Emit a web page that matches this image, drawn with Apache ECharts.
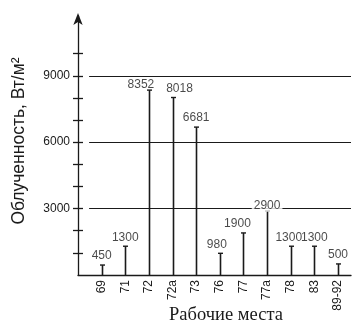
<!DOCTYPE html>
<html>
<head>
<meta charset="utf-8">
<script src="https://cdn.jsdelivr.net/npm/echarts@6/dist/echarts.min.js"></script>
<style>
  html, body { margin: 0; padding: 0; background: #fff; }
  #chart { width: 354px; height: 323px; }
</style>
</head>
<body>
<div id="chart"></div>
<script>
// Workplaces and measured irradiance, W/m²
const workplaces = ['69', '71', '72', '72а', '73', '76', '77', '77а', '78', '83', '89-92'];
const irradiance = [450, 1300, 8352, 8018, 6681, 980, 1900, 2900, 1300, 1300, 500];
const yTicks = [1000, 2000, 3000, 4000, 5000, 6000, 7000, 8000, 9000, 10000];
const yLabels = [3000, 6000, 9000];
const gridLevels = [3000, 6000, 9000];

const INK = '#1a1a1a';
const FONT = '"Liberation Sans", Arial, sans-serif';

// Nudges keep value labels clear of neighbours and the 9000 line
const labelShift = { 2: [-8, 4], 3: [7, 0], 5: [-3, 0], 6: [-6, 0], 8: [-2, 0], 7: [0, 4] };

const points = irradiance.map((v, i) => [i, v]);

const labelData = irradiance.map((v, i) => {
  const item = { value: [i, v] };
  const lbl = {};
  if (labelShift[i]) lbl.offset = labelShift[i];
  if (i === 7) {
    lbl.backgroundColor = '#fff';
    lbl.padding = [0, 2];
  }
  item.label = lbl;
  return item;
});

const chart = echarts.init(document.getElementById('chart'), null, { renderer: 'canvas' });

const yMin = 0, yMax = 11700;
const xMin = -1, xMax = 10.55;
const plain = v => String(v);

chart.setOption({
  animation: false,
  backgroundColor: '#fff',
  grid: { left: 78, right: 3, top: 16, bottom: 48 },
  xAxis: {
    type: 'value',
    min: xMin,
    max: xMax,
    interval: 1,
    axisLine: { show: true, onZero: false, lineStyle: { color: INK, width: 1.3 } },
    axisTick: { show: false },
    splitLine: { show: false },
    axisLabel: {
      rotate: 90,
      margin: 5,
      fontFamily: FONT,
      fontSize: 12,
      color: INK,
      showMaxLabel: false,
      formatter: v => (Number.isInteger(v) && v >= 0 && v < workplaces.length) ? workplaces[v] : ''
    }
  },
  yAxis: [
    {
      type: 'value',
      min: yMin,
      max: yMax,
      axisLine: {
        show: true,
        onZero: false,
        lineStyle: { color: INK, width: 1.3 },
        symbol: ['none', 'arrow'],
        symbolSize: [7, 12],
        symbolOffset: [0, 3]
      },
      axisTick: { show: true, inside: false, length: 5, customValues: yTicks, lineStyle: { color: INK, width: 1.3 } },
      axisLabel: { customValues: yLabels, margin: 8, fontFamily: FONT, fontSize: 12, color: INK, formatter: plain },
      splitLine: { show: false }
    },
    {
      type: 'value',
      position: 'left',
      offset: 0,
      min: yMin,
      max: yMax,
      axisLine: { show: false, onZero: false },
      axisTick: { show: true, inside: true, length: 5, customValues: yTicks, lineStyle: { color: INK, width: 1.3 } },
      axisLabel: { show: false },
      splitLine: { show: false }
    }
  ],
  graphic: [
    {
      type: 'text',
      x: 19, y: 141,
      rotation: Math.PI / 2,
      style: {
        text: 'Облученность, Вт/м²',
        font: '17.5px ' + FONT,
        fill: INK,
        align: 'center',
        verticalAlign: 'middle'
      }
    },
    {
      type: 'text',
      x: 226, y: 315,
      style: {
        text: 'Рабочие места',
        font: '18.5px "Liberation Serif", "Times New Roman", serif',
        fill: INK,
        align: 'center',
        verticalAlign: 'middle'
      }
    }
  ],
  series: [
    {
      // vertical stems with a short cap on top
      type: 'custom',
      data: points,
      z: 3,
      renderItem: (params, api) => {
        const top = api.coord([api.value(0), api.value(1)]);
        const base = api.coord([api.value(0), 0]);
        const x = Math.round(top[0]) + 0.5;
        return {
          type: 'group',
          children: [
            { type: 'line', shape: { x1: x, y1: base[1], x2: x, y2: top[1] }, style: { stroke: INK, lineWidth: 1.6 } },
            { type: 'line', shape: { x1: x - 2.5, y1: top[1], x2: x + 2.5, y2: top[1] }, style: { stroke: INK, lineWidth: 1.4 } }
          ]
        };
      }
    },
    {
      // value labels above each stem, plus the horizontal reference levels
      type: 'scatter',
      data: labelData,
      symbolSize: 0,
      z: 4,
      label: {
        show: true,
        position: 'top',
        distance: 3,
        fontFamily: FONT,
        fontSize: 12,
        color: INK,
        formatter: p => String(p.value[1])
      },
      markLine: {
        silent: true,
        symbol: ['none', 'none'],
        z: 1,
        label: { show: false },
        lineStyle: { color: INK, width: 1.2, type: 'solid' },
        data: gridLevels.map(v => [{ coord: [-0.53, v] }, { coord: [xMax, v] }])
      }
    }
  ]
});
</script>
</body>
</html>
